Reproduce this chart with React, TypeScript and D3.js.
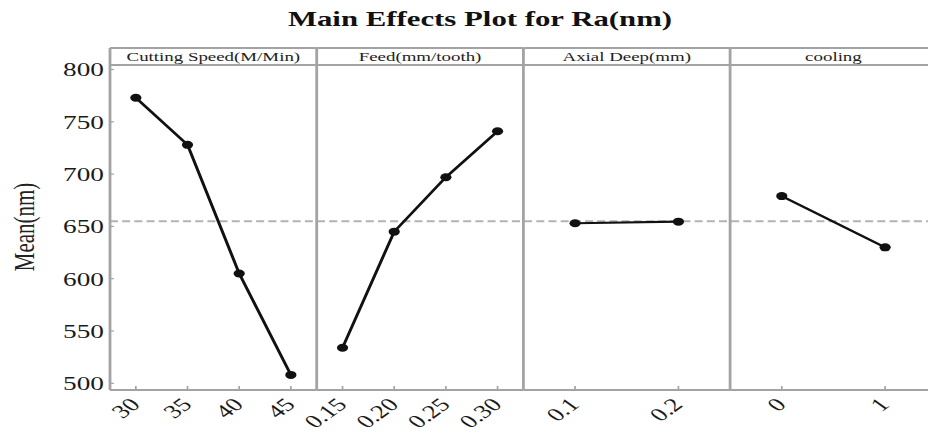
import React from "react";
import * as d3 from "d3";

const title = "Main Effects Plot for Ra(nm)";
const yLabel = "Mean(nm)";
const factorNames = ["Cutting Speed(M/Min)", "Feed(mm/tooth)", "Axial Deep(mm)", "cooling"];
const speedLevels = ["30", "35", "40", "45"];
const speedMeans = [773, 728, 605, 508];
const feedLevels = ["0.15", "0.20", "0.25", "0.30"];
const feedMeans = [534, 645, 697, 741];
const depthLevels = ["0.1", "0.2"];
const depthMeans = [653, 654.5];
const coolingLevels = ["0", "1"];
const coolingMeans = [679, 630];
const grandMean = 655;
const yTicks = [500, 550, 600, 650, 700, 750, 800];

const W = 928;
const H = 433;
const SX = 1.4; // horizontal stretch of the original picture
const left = 110;
const panelW = 206.7;
const stripTop = 48;
const stripBot = 65;
const plotBot = 390;
const FONT = "'Liberation Serif', 'Times New Roman', serif";
const GRID = "#a3a3a3";

export default function App() {
  const y = d3.scaleLinear().domain([500, 800]).range([383.3, 69.5]);
  const X = (px: number) => px / SX;

  const panelData = [
    { name: factorNames[0], levels: speedLevels, means: speedMeans },
    { name: factorNames[1], levels: feedLevels, means: feedMeans },
    { name: factorNames[2], levels: depthLevels, means: depthMeans },
    { name: factorNames[3], levels: coolingLevels, means: coolingMeans },
  ];
  const rightEdge = left + panelW * panelData.length;

  return (
    <svg
      width={W}
      height={H}
      style={{ position: "absolute", left: 0, top: 0, background: "#fff" }}
      fontFamily={FONT}
    >
      <rect x={0} y={0} width={W} height={H} fill="#fff" />
      <g transform={`scale(${SX},1)`}>
        <text x={X(480)} y={26} textAnchor="middle" fontSize={22} fontWeight="bold" fill="#111">
          {title}
        </text>
        <text
          transform={`translate(${X(24)},${227}) rotate(-90)`}
          textAnchor="middle"
          dy="0.35em"
          fontSize={21}
          fill="#222"
        >
          {yLabel}
        </text>

        {/* mean reference line */}
        <line
          x1={X(left)}
          x2={X(rightEdge)}
          y1={y(grandMean)}
          y2={y(grandMean)}
          stroke="#b3b3b3"
          strokeWidth={2}
          strokeDasharray="5.7 3"
        />

        {/* y ticks */}
        {yTicks.map((t) => (
          <g key={t}>
            <line x1={X(left)} x2={X(left + 4)} y1={y(t)} y2={y(t)} stroke={GRID} strokeWidth={1.2} />
            <text x={X(left - 6)} y={y(t)} dy="0.35em" textAnchor="end" fontSize={19.5} fill="#1a1a1a">
              {t}
            </text>
          </g>
        ))}

        {panelData.map((p, i) => {
          const x0 = left + panelW * i;
          const x1 = x0 + panelW;
          const xs = d3.scalePoint<string>().domain(p.levels).range([x0, x1]).padding(0.5);
          const line = d3
            .line<number>()
            .x((_, j) => X(xs(p.levels[j]) as number))
            .y((d) => y(d));
          return (
            <g key={p.name}>
              {/* strip */}
              <line x1={X(x0)} x2={X(x1)} y1={stripTop} y2={stripTop} stroke={GRID} strokeWidth={2} />
              <line x1={X(x0)} x2={X(x1)} y1={stripBot} y2={stripBot} stroke={GRID} strokeWidth={2} />
              <text x={X((x0 + x1) / 2)} y={61} textAnchor="middle" fontSize={13.5} fill="#222">
                {p.name}
              </text>
              {/* left border */}
              <line x1={X(x0)} x2={X(x0)} y1={stripTop} y2={plotBot} stroke={GRID} strokeWidth={2} />
              {/* bottom axis */}
              <line x1={X(x0)} x2={X(x1)} y1={plotBot} y2={plotBot} stroke={GRID} strokeWidth={2} />
              {p.levels.map((lv) => {
                const tx = xs(lv) as number;
                return (
                  <g key={lv}>
                    <line x1={X(tx)} x2={X(tx)} y1={plotBot} y2={plotBot - 4} stroke={GRID} strokeWidth={1.2} />
                    <text
                      transform={`translate(${X(tx - 1)},${401}) rotate(-45)`}
                      textAnchor="end"
                      dy="0.35em"
                      fontSize={19}
                      fill="#1a1a1a"
                    >
                      {lv}
                    </text>
                  </g>
                );
              })}
              <path d={line(p.means) || ""} fill="none" stroke="#111" strokeWidth={2.2} />
              {p.means.map((m, j) => (
                <circle key={j} cx={X(xs(p.levels[j]) as number)} cy={y(m)} r={4} fill="#111" />
              ))}
            </g>
          );
        })}
        <line x1={X(rightEdge)} x2={X(rightEdge)} y1={stripTop} y2={plotBot} stroke={GRID} strokeWidth={2} />
      </g>
    </svg>
  );
}
